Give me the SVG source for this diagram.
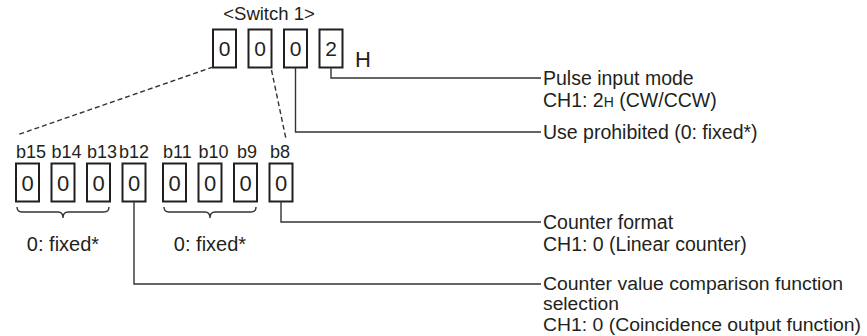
<svg xmlns="http://www.w3.org/2000/svg" width="867" height="336" viewBox="0 0 867 336">
<style>
  text { font-family: "Liberation Sans", Arial, sans-serif; fill: #231f20; }
  .box { fill: #fff; stroke: #231f20; stroke-width: 2; }
  .dig { font-size: 21px; text-anchor: middle; }
  .bdig { font-size: 22px; text-anchor: middle; }
  .lbl { font-size: 18px; }
  .fix { font-size: 20px; text-anchor: middle; }
  .txt { font-size: 19.5px; }
  .txs { font-size: 18px; }
  .ln { fill: none; stroke: #333; stroke-width: 1.4; }
  .dash { fill: none; stroke: #333; stroke-width: 1.4; stroke-dasharray: 5 3; }
</style>
<rect width="867" height="336" fill="#fff"/>
<text x="269" y="20" style="font-size:18.5px;text-anchor:middle">&lt;Switch 1&gt;</text>
<g id="switch-digits">
  <g id="d3"><rect class="box" x="213" y="29.5" width="23" height="38"/><text class="dig" x="224.5" y="56">0</text></g>
  <g id="d2"><rect class="box" x="248.5" y="29.5" width="23" height="38"/><text class="dig" x="260" y="56">0</text></g>
  <g id="d1"><rect class="box" x="284" y="29.5" width="23" height="38"/><text class="dig" x="295.5" y="56">0</text></g>
  <g id="d0"><rect class="box" x="319.5" y="29.5" width="23" height="38"/><text class="dig" x="331" y="56">2</text></g>
  <text x="355" y="66.5" style="font-size:22px">H</text>
</g>
<g id="bits">
  <text class="lbl" x="16" y="158">b15</text>
  <text class="lbl" x="51.5" y="158">b14</text>
  <text class="lbl" x="87" y="158">b13</text>
  <text class="lbl" x="119" y="158">b12</text>
  <text class="lbl" x="163" y="158">b11</text>
  <text class="lbl" x="198.5" y="158">b10</text>
  <text class="lbl" x="237" y="158">b9</text>
  <text class="lbl" x="270" y="158">b8</text>
  <g id="b15"><rect class="box" x="16" y="163.5" width="23" height="38"/><text class="bdig" x="27.5" y="191">0</text></g>
  <g id="b14"><rect class="box" x="51.5" y="163.5" width="23" height="38"/><text class="bdig" x="63" y="191">0</text></g>
  <g id="b13"><rect class="box" x="87" y="163.5" width="23" height="38"/><text class="bdig" x="98.5" y="191">0</text></g>
  <g id="b12"><rect class="box" x="122.5" y="163.5" width="23" height="38"/><text class="bdig" x="134" y="191">0</text></g>
  <g id="b11"><rect class="box" x="163" y="163.5" width="23" height="38"/><text class="bdig" x="174.5" y="191">0</text></g>
  <g id="b10"><rect class="box" x="198.5" y="163.5" width="23" height="38"/><text class="bdig" x="210" y="191">0</text></g>
  <g id="b9"><rect class="box" x="234" y="163.5" width="23" height="38"/><text class="bdig" x="245.5" y="191">0</text></g>
  <g id="b8"><rect class="box" x="269.5" y="163.5" width="23" height="38"/><text class="bdig" x="281" y="191">0</text></g>
</g>
<g id="braces">
  <path class="ln" d="M17 207 Q17 212 22 212 H58 Q63 212 63 218 Q63 212 68 212 H104 Q109 212 109 207"/>
  <text class="fix" x="63" y="251">0: fixed*</text>
  <path class="ln" d="M164 207 Q164 212 169 212 H205 Q210 212 210 218 Q210 212 215 212 H251 Q256 212 256 207"/>
  <text class="fix" x="210" y="251">0: fixed*</text>
</g>
<g id="connectors">
  <path class="ln" d="M331 67.5 V78 H541"/>
  <path class="ln" d="M295.5 67.5 V132 H541"/>
  <path class="ln" d="M281 201.5 V222 H541"/>
  <path class="ln" d="M134 201.5 V284 H541"/>
  <path class="dash" d="M213 67 L17 135"/>
  <path class="dash" d="M271.5 70 L286 139"/>
</g>
<g id="labels">
  <text class="txt" x="543" y="85">Pulse input mode</text>
  <text class="txt" x="543" y="107">CH1: 2<tspan style="font-size:14px">H</tspan> (CW/CCW)</text>
  <text class="txt" x="543" y="139">Use prohibited (0: fixed*)</text>
  <text class="txt" x="543" y="229">Counter format</text>
  <text class="txt" x="543" y="251">CH1: 0 (Linear counter)</text>
  <text class="txs" x="543" y="290" textLength="300" lengthAdjust="spacingAndGlyphs">Counter value comparison function</text>
  <text class="txs" x="543" y="310.3" textLength="76" lengthAdjust="spacingAndGlyphs">selection</text>
  <text class="txs" x="543" y="330.6" textLength="318" lengthAdjust="spacingAndGlyphs">CH1: 0 (Coincidence output function)</text>
</g>
</svg>
